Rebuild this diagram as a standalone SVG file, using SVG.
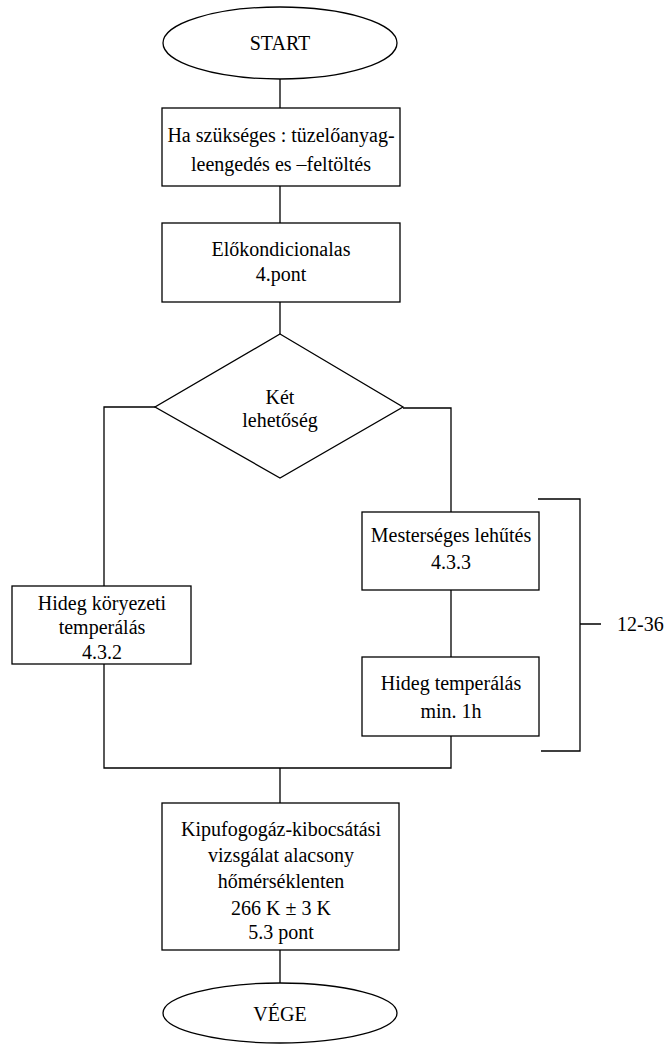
<svg xmlns="http://www.w3.org/2000/svg" width="667" height="1046" viewBox="0 0 667 1046">
<style>
.s{fill:#fff;stroke:#000;stroke-width:1.3}
.c{fill:none;stroke:#000;stroke-width:1.3}
text{font-family:"Liberation Serif","Times New Roman",serif;font-size:20px;fill:#000;text-anchor:middle}
</style>
<rect width="667" height="1046" fill="#fff"/>
<g id="connectors">
<path class="c" d="M280 79V108M280 186V223M280 302V334"/>
<path class="c" d="M155 407H104V586M104 664V768H451V736M451 657V590M451 512V408H403"/>
<path class="c" d="M280 768V803M280 950V983"/>
<path class="c" d="M538 499H580V751H541M580 624H601"/>
</g>
<g id="start"><ellipse class="s" cx="280" cy="43" rx="117" ry="36"/><text x="280" y="50">START</text></g>
<g id="box1"><rect class="s" x="162" y="108" width="238" height="78"/><text x="281" y="142">Ha szükséges : tüzelőanyag-</text><text x="281" y="171">leengedés es –feltöltés</text></g>
<g id="box2"><rect class="s" x="162" y="223" width="238" height="79"/><text x="281" y="256">Előkondicionalas</text><text x="281" y="281">4.pont</text></g>
<g id="decision"><polygon class="s" points="280,334 403,407 280,478 155,407"/><text x="280" y="404">Két</text><text x="280" y="427">lehetőség</text></g>
<g id="left"><rect class="s" x="12" y="586" width="179" height="78"/><text x="102" y="610">Hideg köryezeti</text><text x="102" y="634">temperálás</text><text x="102" y="659">4.3.2</text></g>
<g id="cool"><rect class="s" x="362" y="512" width="177" height="78"/><text x="451" y="542">Mesterséges lehűtés</text><text x="451" y="569">4.3.3</text></g>
<g id="soak"><rect class="s" x="362" y="657" width="177" height="79"/><text x="451" y="690">Hideg temperálás</text><text x="451" y="718">min. 1h</text></g>
<g id="bracket-label"><text x="617" y="631" style="text-anchor:start">12-36</text></g>
<g id="test"><rect class="s" x="162" y="803" width="237" height="147"/><text x="281" y="836">Kipufogogáz-kibocsátási</text><text x="281" y="862">vizsgálat alacsony</text><text x="281" y="888">hőmérséklenten</text><text x="281" y="915">266 K ± 3 K</text><text x="281" y="939">5.3 pont</text></g>
<g id="end"><ellipse class="s" cx="280" cy="1013" rx="117" ry="30"/><text x="280" y="1021">VÉGE</text></g>
</svg>
